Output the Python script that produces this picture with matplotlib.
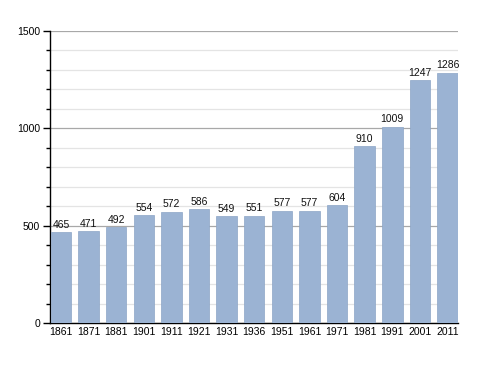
import matplotlib
matplotlib.use("Agg")
import matplotlib.pyplot as plt
from matplotlib.ticker import MultipleLocator

years = ["1861", "1871", "1881", "1901", "1911", "1921", "1931", "1936",
         "1951", "1961", "1971", "1981", "1991", "2001", "2011"]
population = [465, 471, 492, 554, 572, 586, 549, 551, 577, 577, 604, 910, 1009, 1247, 1286]

plt.rcParams['font.family'] = ['Liberation Sans', 'DejaVu Sans']

fig = plt.figure(figsize=(4.88, 3.73), dpi=100)
ax = fig.add_axes([50/488, 1-323/373, 408/488, 292/373])

x = list(range(len(years)))
bars = ax.bar(x, population, width=0.74, color='#9bb3d3', edgecolor='#8ca5c6',
              linewidth=0.5, zorder=3)
for xi, v in zip(x, population):
    ax.text(xi, v + 12, str(v), ha='center', va='bottom', fontsize=7.5,
            color='#111111', zorder=4)

ax.set_xlim(-0.40, 14.38)
ax.set_ylim(0, 1500)
ax.set_xticks(x)
ax.set_xticklabels(years)
ax.yaxis.set_major_locator(MultipleLocator(500))
ax.yaxis.set_minor_locator(MultipleLocator(100))
ax.grid(axis='y', which='major', color='#a8a8a8', linewidth=0.9, zorder=0)
ax.grid(axis='y', which='minor', color='#e4e4e4', linewidth=0.9, zorder=0)
ax.tick_params(axis='x', length=0, pad=3, labelsize=7.5)
ax.tick_params(axis='y', which='major', length=5, width=1, labelsize=7.5, pad=2)
ax.tick_params(axis='y', which='minor', length=3, width=1)
for s in ['top', 'right']:
    ax.spines[s].set_visible(False)
ax.spines['left'].set_linewidth(1)
ax.spines['bottom'].set_linewidth(1)

fig.savefig("out.png", dpi=100)
